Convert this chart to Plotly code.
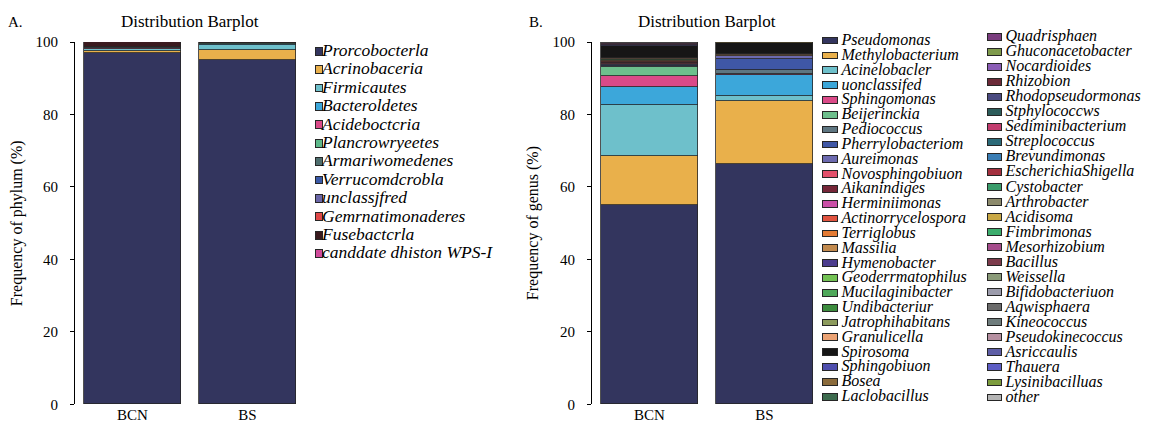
import plotly.graph_objects as go

W, H = 1153, 438
OX, OY = 8, 8  # page body margin offset of the figure

samples = ["BCN", "BS"]

phyla = ["Prorcobocterla", "Acrinobaceria", "Firmicautes", "Bacteroldetes", "Acideboctcria",
         "Plancrowryeetes", "Armariwomedenes", "Verrucomdcrobla", "unclassjfred",
         "Gemrnatimonaderes", "Fusebactcrla", "canddate dhiston WPS-I"]
phylum_bcn = [96.9, 0.7, 0.4, 0.2, 0.1, 0.1, 0.1, 0.05, 0.1, 0.05, 1.3, 0.0]
phylum_bs = [94.9, 2.8, 1.5, 0.2, 0.1, 0.1, 0.1, 0.05, 0.05, 0.05, 0.1, 0.05]
phylum_colors = ["#33355E", "#E9B04B", "#6EC0CB", "#3CA7DA", "#DA4A88", "#5DB98A",
                 "#4E6E6E", "#3A5AA8", "#6A66A8", "#E04848", "#3A1A1E", "#D04A9A"]

genera_col1 = ["Pseudomonas", "Methylobacterium", "Acinelobacler", "uonclassifed", "Sphingomonas",
               "Beijerinckia", "Pediococcus", "Pherrylobacteriom", "Aureimonas", "Novosphingobiuon",
               "Aikanindiges", "Herminiimonas", "Actinorrycelospora", "Terriglobus", "Massilia",
               "Hymenobacter", "Geoderrmatophilus", "Mucilaginibacter", "Undibacteriur",
               "Jatrophihabitans", "Granulicella", "Spirosoma", "Sphingobiuon", "Bosea", "Laclobacillus"]
genera_col2 = ["Quadrisphaen", "Ghuconacetobacter", "Nocardioides", "Rhizobion", "Rhodopseudormonas",
               "Stphylococcws", "Sediminibacterium", "Streplococcus", "Brevundimonas",
               "EscherichiaShigella", "Cystobacter", "Arthrobacter", "Acidisoma", "Fimbrimonas",
               "Mesorhizobium", "Bacillus", "Weissella", "Bifidobacteriuon", "Aqwisphaera",
               "Kineococcus", "Pseudokinecoccus", "Asriccaulis", "Thauera", "Lysinibacilluas", "other"]

genus_bcn_col1 = [55.0, 13.6, 14.1, 4.9, 2.9, 2.6, 0.3, 0.3, 0.2, 0.4, 0.2, 0.1, 0.1, 0.1, 0.1,
                  0.1, 0.1, 0.1, 0.1, 0.1, 0.1, 3.5, 0.1, 0.1, 0.1]
genus_bcn_col2 = [0.02] * 24 + [0.22]
genus_bs_col1 = [66.2, 17.6, 1.4, 5.8, 0.1, 0.2, 1.0, 3.1, 0.6, 0.05, 0.05, 0.05, 0.05, 0.05, 0.05,
                 0.05, 0.05, 0.05, 0.05, 0.05, 0.05, 3.0, 0.1, 0.05, 0.05]
genus_bs_col2 = [0.005] * 24 + [0.08]

genus_colors_col1 = ["#33355E", "#E9B04B", "#6EC0CB", "#3CA7DA", "#DA4A88", "#6DBF8C", "#5E7681",
                     "#3F57A6", "#6C6AAF", "#E3506B", "#762638", "#C94FA6", "#E0533F", "#E57B34",
                     "#C28A4E", "#4C3D8E", "#72C153", "#4FA85A", "#3C8C3E", "#8C9A5C", "#EBA273",
                     "#161616", "#4F4FAE", "#8B6B3B", "#3D6B4E"]
genus_colors_col2 = ["#7A3D7E", "#7E9A4C", "#8A5CB5", "#6B2A38", "#4A4A80", "#2C5C5A", "#C23C6E",
                     "#2B6A78", "#3A7DB4", "#A3303F", "#3A9C6B", "#8C8A6C", "#C9A845", "#3CAD6D",
                     "#A54C8C", "#7C3B4C", "#8A9A78", "#9C9CAC", "#6B6B6B", "#6E7C7C", "#B58FA0",
                     "#5E5EA6", "#5D5DC4", "#7C9C3D", "#B4B4B4"]

FONT = "Liberation Serif"
EDGE = "#262626"
BAR_W = 0.843


def fx(x):  # screen px -> paper x
    return (x - OX) / W


def fy(y):  # screen px -> paper y
    return 1 - (y - OY) / H


fig = go.Figure()

# ---- Panel A stacked bars
for name, a, b, c in zip(phyla, phylum_bcn, phylum_bs, phylum_colors):
    fig.add_trace(go.Bar(x=samples, y=[a, b], name=name, marker=dict(color=c, line=dict(color=EDGE, width=0.8)),
                         width=BAR_W, xaxis="x", yaxis="y", showlegend=False))

# ---- Panel B stacked bars
genera = genera_col1 + genera_col2
g_bcn = genus_bcn_col1 + genus_bcn_col2
g_bs = genus_bs_col1 + genus_bs_col2
g_col = genus_colors_col1 + genus_colors_col2
for name, a, b, c in zip(genera, g_bcn, g_bs, g_col):
    fig.add_trace(go.Bar(x=samples, y=[a, b], name=name, marker=dict(color=c, line=dict(color=EDGE, width=0.8)),
                         width=BAR_W, xaxis="x2", yaxis="y2", showlegend=False))


# ---- Custom legends (screen-pixel overlay axes)
def legend_block(names, colors, axn, x0, rect_w, rect_h, y0, dy, text_x, fsize):
    rows = [y0 + i * dy for i in range(len(names))]
    fig.add_trace(go.Bar(orientation="h", y=rows, x=[rect_w] * len(names), base=[x0] * len(names),
                         width=rect_h, marker=dict(color=colors, line=dict(color=EDGE, width=1)),
                         xaxis="x" + axn, yaxis="y" + axn, showlegend=False, hoverinfo="skip"))
    fig.add_trace(go.Scatter(x=[text_x] * len(names), y=rows, mode="text", text=names,
                             textposition="middle right", cliponaxis=False,
                             textfont=dict(family=FONT, size=fsize, color="black", style="italic"),
                             xaxis="x" + axn, yaxis="y" + axn, showlegend=False, hoverinfo="skip"))


legend_block(phyla, phylum_colors, "3", 315.5, 7, 8, 45, 19.1, 322, 17.5)
legend_block(genera_col1, genus_colors_col1, "4", 823, 15, 7, 34, 15.4, 841.5, 16)
legend_block(genera_col2, genus_colors_col2, "5", 988, 14, 7, 30, 15.6, 1005.5, 16)

ydom = [fy(411), fy(35)]
xa = dict(showline=False, ticks="", showgrid=False, zeroline=False, range=[-0.5, 1.457],
          tickfont=dict(family=FONT, size=15, color="black"))
ya = dict(domain=ydom, range=[0, 100], showline=True, linecolor="black", linewidth=1, ticks="outside",
          ticklen=4, tickwidth=1, tickcolor="black", tickvals=[0, 20, 40, 60, 80, 100], showgrid=False,
          zeroline=False, ticklabelstandoff=9, tickfont=dict(family=FONT, size=15, color="black"))
hid_x = dict(domain=[0, 1], range=[OX, W + OX], visible=False, fixedrange=True)
hid_y = dict(domain=[0, 1], range=[H + OY, OY], visible=False, fixedrange=True)

fig.update_layout(
    width=W, height=H, margin=dict(l=0, r=0, t=0, b=0),
    paper_bgcolor="white", plot_bgcolor="rgba(0,0,0,0)", barmode="stack", bargap=0,
    font=dict(family=FONT, color="black"),
    xaxis=dict(domain=[fx(75), fx(300)], anchor="y", **xa),
    yaxis=dict(anchor="x", **ya),
    xaxis2=dict(domain=[fx(592), fx(817)], anchor="y2", **xa),
    yaxis2=dict(anchor="x2", **ya),
    xaxis3=dict(anchor="y3", **hid_x), yaxis3=dict(anchor="x3", **hid_y),
    xaxis4=dict(anchor="y4", **hid_x), yaxis4=dict(anchor="x4", **hid_y),
    xaxis5=dict(anchor="y5", **hid_x), yaxis5=dict(anchor="x5", **hid_y),
)

ann = [
    ("A.", 15, 14, 0, 15),
    ("B.", 536, 14, 0, 15),
    ("Distribution Barplot", 190, 14, 0, 17),
    ("Distribution Barplot", 707, 14, 0, 17),
    ("Frequency of phylum (%)", 17, 223, -90, 16),
    ("Frequency of genus (%)", 533, 223, -90, 16),
]
for t, x, y, ang, fs in ann:
    fig.add_annotation(text=t, x=fx(x), y=fy(y), xref="paper", yref="paper", showarrow=False,
                       xanchor="center", yanchor="middle", textangle=ang,
                       font=dict(family=FONT, size=fs, color="black"))

fig.write_html("out.html")
